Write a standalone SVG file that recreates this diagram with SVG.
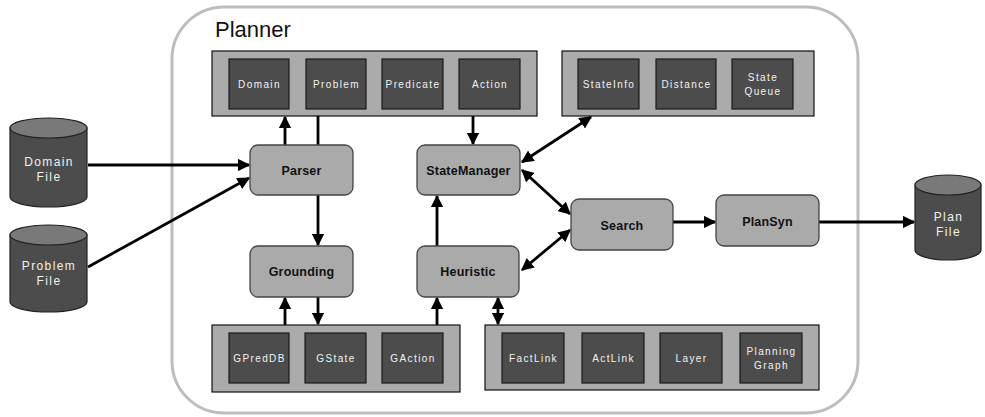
<svg xmlns="http://www.w3.org/2000/svg" width="985" height="417" viewBox="0 0 985 417">
<style>
.planner{fill:#fff;stroke:#bdbdbd;stroke-width:3}
.cont{fill:#ababab;stroke:#111;stroke-width:1.2}
.item{fill:#4c4c4c;stroke:#1a1a1a;stroke-width:1.2}
.itxt{font-family:"Liberation Sans",Arial,sans-serif;font-size:10px;fill:#f2f2f2;letter-spacing:1.4px;text-anchor:middle}
.proc{fill:#aaaaaa;stroke:#444;stroke-width:1.3}
.ptxt{font-family:"Liberation Sans",Arial,sans-serif;font-size:12.5px;font-weight:bold;fill:#111;text-anchor:middle;letter-spacing:0.2px}
.cylb{fill:#4c4c4c;stroke:#222;stroke-width:1.2}
.cylt{fill:#797979;stroke:#222;stroke-width:1.2}
.ctxt{font-family:"Liberation Sans",Arial,sans-serif;font-size:12px;fill:#f0f0f0;letter-spacing:1.4px;text-anchor:middle}
.ln{stroke:#000;stroke-width:2.8;fill:none}
</style>
<defs>
<marker id="ah" viewBox="0 0 10 10" refX="9" refY="5" markerWidth="4.5" markerHeight="4.5" orient="auto-start-reverse" markerUnits="strokeWidth">
<path d="M0,0 L10,5 L0,10 z" fill="#000"/>
</marker>
</defs>

<g id="planner">
<rect class="planner" x="172" y="7" width="686" height="406" rx="52" ry="52"/>
<text x="215" y="37" font-family="Liberation Sans,Arial,sans-serif" font-size="22" fill="#111">Planner</text>
</g>

<g id="connectors">
<line class="ln" x1="88" y1="165" x2="249" y2="165" marker-end="url(#ah)"/>
<line class="ln" x1="88" y1="267" x2="249" y2="178" marker-end="url(#ah)"/>
<line class="ln" x1="285" y1="145" x2="285" y2="117" marker-end="url(#ah)"/>
<line class="ln" x1="318" y1="116" x2="318" y2="245" marker-end="url(#ah)"/>
<line class="ln" x1="473" y1="116" x2="473" y2="144" marker-end="url(#ah)"/>
<line class="ln" x1="522" y1="162" x2="591" y2="117" marker-start="url(#ah)" marker-end="url(#ah)"/>
<line class="ln" x1="522" y1="170" x2="570" y2="214" marker-start="url(#ah)" marker-end="url(#ah)"/>
<line class="ln" x1="437" y1="246" x2="437" y2="196" marker-end="url(#ah)"/>
<line class="ln" x1="570" y1="230" x2="522" y2="270" marker-end="url(#ah)" marker-start="url(#ah)"/>
<line class="ln" x1="673" y1="222" x2="715" y2="222" marker-end="url(#ah)"/>
<line class="ln" x1="819" y1="222" x2="914" y2="222" marker-end="url(#ah)"/>
<line class="ln" x1="285" y1="325" x2="285" y2="298" marker-end="url(#ah)"/>
<line class="ln" x1="318" y1="297" x2="318" y2="324" marker-end="url(#ah)"/>
<line class="ln" x1="437" y1="325" x2="437" y2="298" marker-end="url(#ah)"/>
<line class="ln" x1="498" y1="298" x2="498" y2="324" marker-start="url(#ah)" marker-end="url(#ah)"/>
</g>

<g id="domain-file">
<path class="cylb" d="M10,128 L10,197 A38.5,10 0 0 0 87,197 L87,128 Z"/>
<ellipse class="cylt" cx="48.5" cy="128" rx="38.5" ry="10"/>
<text class="ctxt" x="49" y="166">Domain</text>
<text class="ctxt" x="49" y="181">File</text>
</g>
<g id="problem-file">
<path class="cylb" d="M10,235 L10,302 A38.5,10 0 0 0 87,302 L87,235 Z"/>
<ellipse class="cylt" cx="48.5" cy="235" rx="38.5" ry="10"/>
<text class="ctxt" x="49" y="270">Problem</text>
<text class="ctxt" x="49" y="285">File</text>
</g>
<g id="plan-file">
<path class="cylb" d="M915,185 L915,250 A33,10 0 0 0 981,250 L981,185 Z"/>
<ellipse class="cylt" cx="948" cy="185" rx="33" ry="10"/>
<text class="ctxt" x="948.5" y="221">Plan</text>
<text class="ctxt" x="948.5" y="236">File</text>
</g>

<g id="parse-store">
<rect class="cont" x="212" y="51" width="325" height="65"/>
<g id="domain"><rect class="item" x="229" y="59" width="60" height="50"/><text class="itxt" x="259.5" y="88">Domain</text></g>
<g id="problem"><rect class="item" x="306" y="59" width="60" height="50"/><text class="itxt" x="336.5" y="88">Problem</text></g>
<g id="predicate"><rect class="item" x="382" y="59" width="61" height="50"/><text class="itxt" x="413" y="88">Predicate</text></g>
<g id="action"><rect class="item" x="459" y="59" width="61" height="50"/><text class="itxt" x="490" y="88">Action</text></g>
</g>

<g id="state-store">
<rect class="cont" x="562" y="51" width="252" height="65"/>
<g id="stateinfo"><rect class="item" x="578" y="59" width="61" height="50"/><text class="itxt" x="609" y="88">StateInfo</text></g>
<g id="distance"><rect class="item" x="656" y="59" width="60" height="50"/><text class="itxt" x="686.5" y="88">Distance</text></g>
<g id="statequeue"><rect class="item" x="732" y="59" width="61" height="50"/><text class="itxt" x="763" y="81">State</text><text class="itxt" x="763" y="95">Queue</text></g>
</g>

<g id="ground-store">
<rect class="cont" x="212" y="325" width="248" height="67"/>
<g id="gpreddb"><rect class="item" x="229" y="333" width="60" height="50"/><text class="itxt" x="259.5" y="362">GPredDB</text></g>
<g id="gstate"><rect class="item" x="305" y="333" width="61" height="50"/><text class="itxt" x="336" y="362">GState</text></g>
<g id="gaction"><rect class="item" x="382" y="333" width="61" height="50"/><text class="itxt" x="413" y="362">GAction</text></g>
</g>

<g id="graph-store">
<rect class="cont" x="485" y="325" width="334" height="65"/>
<g id="factlink"><rect class="item" x="502" y="333" width="62" height="50"/><text class="itxt" x="533.5" y="362">FactLink</text></g>
<g id="actlink"><rect class="item" x="582" y="333" width="62" height="50"/><text class="itxt" x="613.5" y="362">ActLink</text></g>
<g id="layer"><rect class="item" x="660" y="333" width="62" height="50"/><text class="itxt" x="691.5" y="362">Layer</text></g>
<g id="planninggraph"><rect class="item" x="740" y="333" width="62" height="50"/><text class="itxt" x="771.5" y="355">Planning</text><text class="itxt" x="771.5" y="369">Graph</text></g>
</g>

<g id="parser"><rect class="proc" x="250" y="145" width="103" height="50" rx="8"/><text class="ptxt" x="301.5" y="175">Parser</text></g>
<g id="statemanager"><rect class="proc" x="417" y="145" width="103" height="50" rx="8"/><text class="ptxt" x="468.5" y="175">StateManager</text></g>
<g id="grounding"><rect class="proc" x="250" y="246" width="103" height="51" rx="8"/><text class="ptxt" x="301.5" y="276">Grounding</text></g>
<g id="heuristic"><rect class="proc" x="417" y="246" width="102" height="51" rx="8"/><text class="ptxt" x="468" y="276">Heuristic</text></g>
<g id="search"><rect class="proc" x="571" y="199" width="102" height="51" rx="8"/><text class="ptxt" x="622" y="230">Search</text></g>
<g id="plansyn"><rect class="proc" x="716" y="195" width="103" height="51" rx="8"/><text class="ptxt" x="767.5" y="226">PlanSyn</text></g>
</svg>
